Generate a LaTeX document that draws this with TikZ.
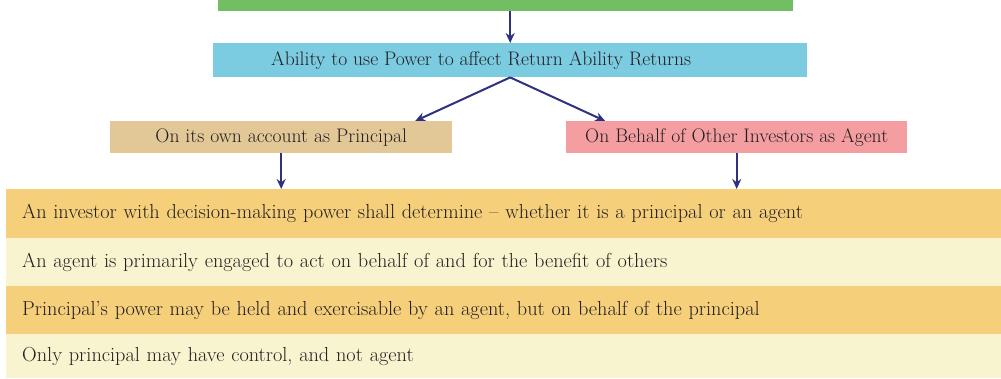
\documentclass[tikz,border=0pt]{standalone}
\usetikzlibrary{arrows.meta}
\definecolor{cgreen}{HTML}{71BF62}
\definecolor{ccyan}{HTML}{7BCBE1}
\definecolor{ctan}{HTML}{E2C797}
\definecolor{cpink}{HTML}{F49EA1}
\definecolor{corange}{HTML}{F6CF7B}
\definecolor{clight}{HTML}{F8F4D0}
\definecolor{cnavy}{HTML}{2E3180}
\definecolor{ctext}{HTML}{231F20}
\begin{document}
\begin{tikzpicture}[x=1pt,y=-1pt,
  box/.style={draw=none,inner sep=0pt,anchor=north west,text=ctext,font=\fontsize{19.6}{22}\selectfont},
  rowbox/.style={box,minimum width=995pt,minimum height=48.5pt,text width=963pt,align=left,inner xsep=16pt,font=\fontsize{20.3}{23}\selectfont},
  conn/.style={draw=cnavy,line width=2pt,-{Stealth[length=10pt,width=9pt]}}]
\useasboundingbox (0,0) rectangle (1001,378);
\node[box,fill=cgreen,minimum width=575pt,minimum height=11pt] (top) at (218,0) {};
\node[box,fill=ccyan,minimum width=594pt,minimum height=34pt] (abil) at (213,43) {};
\node[box,anchor=west] (abilt) at ([xshift=58pt]abil.west) {Ability to use Power to affect Return Ability Returns};
\node[box,fill=ctan,minimum width=342pt,minimum height=32pt] (lbox) at (110,121) {On its own account as Principal};
\node[box,fill=cpink,minimum width=341pt,minimum height=32pt] (rbox) at (566,121) {On Behalf of Other Investors as Agent};
\node[rowbox,fill=corange] (r1) at (6,189) {An investor with decision-making power shall determine -- whether it is a principal or an agent};
\node[rowbox,fill=clight] (r2) at (6,237.5) {An agent is primarily engaged to act on behalf of and for the benefit of others};
\node[rowbox,fill=corange] (r3) at (6,286) {Principal’s power may be held and exercisable by an agent, but on behalf of the principal};
\node[rowbox,fill=clight,minimum height=44pt] (r4) at (6,334) {Only principal may have control, and not agent};
\draw[conn] (top.south -| abil.south) -- (abil.north);
\draw[conn] (abil.south) -- ([xshift=134pt]lbox.north);
\draw[conn] (abil.south) -- ([xshift=-131.5pt]rbox.north);
\draw[conn] (lbox.south) -- (lbox.south |- r1.north);
\draw[conn] (rbox.south) -- (rbox.south |- r1.north);
\end{tikzpicture}
\end{document}
